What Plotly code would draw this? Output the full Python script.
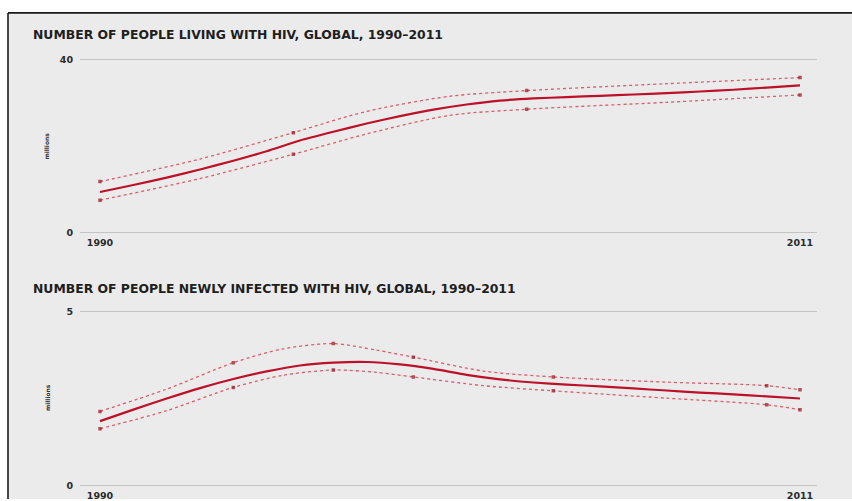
import plotly.graph_objects as go

W, H = 852, 501

# ---------------- data ----------------
years = list(range(1990, 2012))

# People living with HIV (millions)
living_central = [9.4, 11.0, 12.7, 14.6, 16.6, 18.8, 21.3, 23.3, 25.2, 26.9, 28.4,
                  29.6, 30.5, 31.0, 31.3, 31.6, 31.9, 32.2, 32.6, 33.0, 33.5, 34.0]
living_bound_years = [1990, 1993, 1995.8, 1998, 2000.5, 2002.8, 2007, 2011]
living_upper = [11.8, 17.0, 23.1, 28.0, 31.5, 32.8, 34.4, 35.8]
living_lower = [7.5, 12.5, 18.1, 22.8, 27.1, 28.5, 30.1, 31.8]
living_knots = [True, False, True, False, False, True, False, True]

# People newly infected with HIV (millions)
new_central = [1.85, 2.18, 2.50, 2.80, 3.06, 3.28, 3.45, 3.53, 3.55, 3.48, 3.35,
               3.18, 3.05, 2.96, 2.90, 2.85, 2.79, 2.73, 2.67, 2.62, 2.56, 2.50]
new_bound_years = [1990, 1992, 1994, 1995.5, 1997, 1998.3, 1999.4, 2001.5, 2003.6, 2007, 2010, 2011]
new_upper = [2.13, 2.77, 3.53, 3.93, 4.08, 3.89, 3.69, 3.29, 3.12, 2.97, 2.87, 2.75]
new_lower = [1.63, 2.15, 2.82, 3.17, 3.32, 3.25, 3.12, 2.87, 2.72, 2.51, 2.32, 2.18]
new_knots = [True, False, True, False, True, False, True, False, True, False, True, True]

titles = ["NUMBER OF PEOPLE LIVING WITH HIV, GLOBAL, 1990–2011",
          "NUMBER OF PEOPLE NEWLY INFECTED WITH HIV, GLOBAL, 1990–2011"]
y_ticks = [[0, 40], [0, 5]]
y_max = [40, 5]
x_ticks = [1990, 2011]
y_label = "millions"

# ---------------- style ----------------
RED = "#bd1029"
RED_DOT = "#df5a6a"
MARK = "#9a0f20"
FONT = "DejaVu Sans"
TXT = "#2b2b2b"
BG = "#ebebeb"


def px_x(p):
    return p / W


def px_y(p):
    return 1 - p / H


fig = go.Figure()

panels = [
    (living_central, living_bound_years, living_upper, living_lower, living_knots, "x", "y"),
    (new_central, new_bound_years, new_upper, new_lower, new_knots, "x2", "y2"),
]

for central, byears, up, lo, knots, xa, ya in panels:
    msize = [3.5 if k else 0 for k in knots]
    for bound in (up, lo):
        fig.add_trace(go.Scatter(
            x=byears, y=bound, xaxis=xa, yaxis=ya, mode="lines+markers",
            line=dict(color=RED_DOT, width=1.3, dash="dot", shape="spline", smoothing=0.8),
            marker=dict(size=msize, color=MARK, symbol="square", line=dict(width=0)),
            showlegend=False, hoverinfo="skip"))
    fig.add_trace(go.Scatter(
        x=years, y=central, xaxis=xa, yaxis=ya, mode="lines",
        line=dict(color=RED, width=2.2, shape="spline", smoothing=0.6),
        showlegend=False))

# axes geometry (pixel positions)
x_left, x_right = 80, 817
x_px1990, x_px2011 = 100, 800
ppy = (x_px2011 - x_px1990) / 21.0
x_range = [1990 - (x_px1990 - x_left) / ppy, 2011 + (x_right - x_px2011) / ppy]

EXT = 3  # extra pixels so the 0 / max gridlines sit inside the plot area


def y_geom(px_zero, px_max, vmax):
    ppu = (px_zero - px_max) / vmax
    dom = [px_y(px_zero + EXT), px_y(px_max - EXT)]
    rng = [-EXT / ppu, vmax + EXT / ppu]
    return dom, rng


top_dom, top_rng = y_geom(232, 57, y_max[0])
bot_dom, bot_rng = y_geom(487.3, 311.7, y_max[1])

xcommon = dict(range=x_range, domain=[px_x(x_left), px_x(x_right)],
               tickvals=x_ticks, ticktext=[str(v) for v in x_ticks],
               showgrid=False, zeroline=False, showline=False, ticks="",
               tickfont=dict(family=FONT, size=9.5, color=TXT, weight="bold"),
               ticklabelstandoff=0, fixedrange=True)
ycommon = dict(showgrid=True, gridcolor="#c4c4c4", gridwidth=1.4, zeroline=False,
               showline=False, ticks="",
               tickfont=dict(family=FONT, size=9.5, color=TXT, weight="bold"),
               ticklabelstandoff=6, fixedrange=True)

fig.update_layout(
    width=W, height=H,
    margin=dict(l=0, r=0, t=0, b=0),
    paper_bgcolor="white",
    plot_bgcolor=BG,
    xaxis=dict(**xcommon, anchor="y"),
    yaxis=dict(**ycommon, domain=top_dom, range=top_rng, tickvals=y_ticks[0], anchor="x"),
    xaxis2=dict(**xcommon, anchor="y2"),
    yaxis2=dict(**ycommon, domain=bot_dom, range=bot_rng, tickvals=y_ticks[1], anchor="x2"),
    shapes=[
        dict(type="rect", xref="paper", yref="paper", x0=px_x(8), x1=1, y0=0, y1=px_y(10),
             fillcolor=BG, line=dict(width=0), layer="below"),
        dict(type="line", xref="paper", yref="paper", x0=px_x(8), x1=1, y0=px_y(10), y1=px_y(10),
             line=dict(color="#1a1a1a", width=1.6)),
        dict(type="line", xref="paper", yref="paper", x0=px_x(8), x1=px_x(8), y0=0, y1=px_y(10),
             line=dict(color="#1a1a1a", width=1.6)),
    ],
    annotations=[
        dict(text=titles[0], xref="paper", yref="paper", x=px_x(31), y=px_y(32),
             xanchor="left", yanchor="middle", showarrow=False,
             font=dict(family=FONT, size=12.4, color="#1e1e1e", weight="bold")),
        dict(text=titles[1], xref="paper", yref="paper", x=px_x(31), y=px_y(288),
             xanchor="left", yanchor="middle", showarrow=False,
             font=dict(family=FONT, size=12.4, color="#1e1e1e", weight="bold")),
        dict(text=y_label, xref="paper", yref="paper", x=px_x(47), y=px_y(145),
             xanchor="center", yanchor="middle", showarrow=False, textangle=-90,
             font=dict(family=FONT, size=6, color="#333", weight="bold")),
        dict(text=y_label, xref="paper", yref="paper", x=px_x(47), y=px_y(399),
             xanchor="center", yanchor="middle", showarrow=False, textangle=-90,
             font=dict(family=FONT, size=6, color="#333", weight="bold")),
    ],
)

fig.write_html("out.html")
